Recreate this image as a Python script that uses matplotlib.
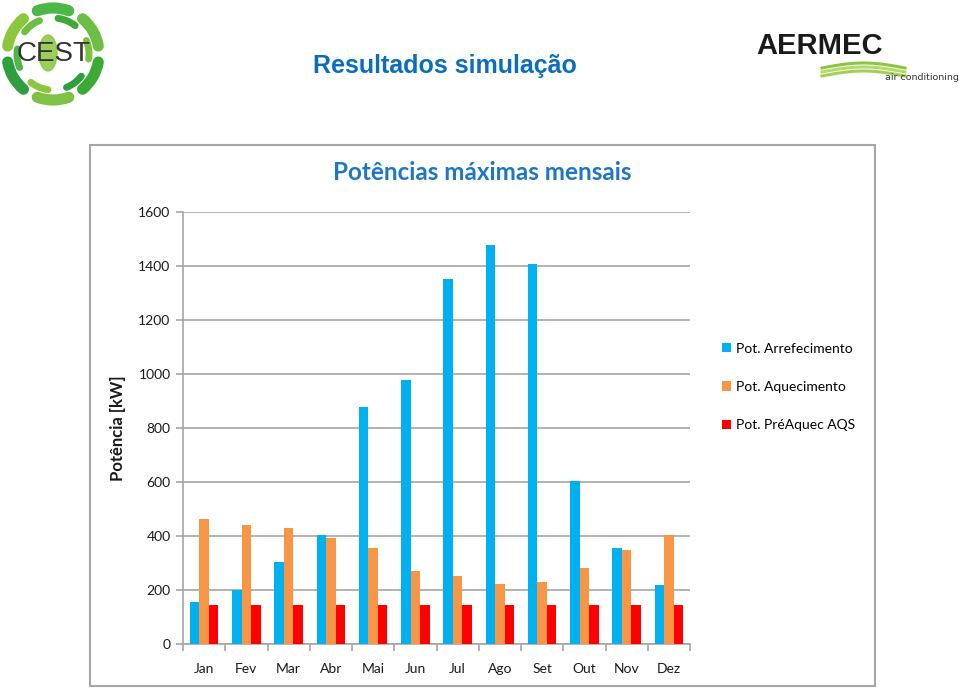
import matplotlib
matplotlib.use("Agg")
import matplotlib.pyplot as plt
import numpy as np
from matplotlib.patches import Rectangle, Arc, Patch, Ellipse

months = ["Jan", "Fev", "Mar", "Abr", "Mai", "Jun", "Jul", "Ago", "Set", "Out", "Nov", "Dez"]
arrefecimento = [156, 200, 302, 402, 876, 979, 1352, 1478, 1408, 602, 355, 218]
aquecimento = [462, 441, 429, 392, 355, 269, 251, 223, 228, 281, 347, 402]
preaquec = [145, 145, 145, 145, 145, 145, 145, 145, 145, 145, 145, 145]
series_names = ["Pot. Arrefecimento", "Pot. Aquecimento", "Pot. PréAquec AQS"]
colors = ["#00B0F0", "#F79646", "#FF0000"]
yticks = [0, 200, 400, 600, 800, 1000, 1200, 1400, 1600]

W, H = 959, 690
fig = plt.figure(figsize=(W / 100, H / 100), dpi=100)
fig.patch.set_facecolor("white")

# background / decoration axes in pixel coordinates
bg = fig.add_axes([0, 0, 1, 1], zorder=0)
bg.set_xlim(0, W)
bg.set_ylim(H, 0)
bg.axis("off")

# chart frame
bg.add_patch(Rectangle((90, 145), 785, 541, fill=False, edgecolor="#A6A6A6", lw=1.5))

# slide title
bg.text(445, 66, "Resultados simulação", ha="center", va="center", fontsize=18,
        fontweight="bold", color="#0A6EBD", family="Liberation Sans")

# CEST logo
cx, cy, r = 53, 54, 46
greens = ["#3DAA35", "#7DC242", "#2E9E3E", "#8CC63F", "#4CB848", "#6DBE45"]
for i in range(6):
    start = i * 60 + 10
    bg.add_patch(Arc((cx, cy), 2 * r, 2 * r, theta1=start, theta2=start + 40,
                     color=greens[i], lw=8, capstyle="round"))
    bg.add_patch(Arc((cx, cy), 2 * r - 20, 2 * r - 20, theta1=start + 28, theta2=start + 58,
                     color=greens[(i + 2) % 6], lw=5, capstyle="round"))
bg.add_patch(Ellipse((48, 53), 18, 36, color="#8CC63F", alpha=0.85))
bg.text(54, 54, "CEST", ha="center", va="center", fontsize=20, color="#333333",
        family="Liberation Sans")

# AERMEC logo
bg.text(820, 46, "AERMEC", ha="center", va="center", fontsize=21, fontweight="bold",
        color="#1A1A1A", family="Liberation Sans")
xs = np.linspace(822, 905, 60)
for k, (off, c) in enumerate([(0, "#8CC63F"), (4, "#B5D96B"), (8, "#A3CF55")]):
    ys = 68 + off - 5 * np.sin((xs - 822) / 83 * np.pi)
    bg.plot(xs, ys, color=c, lw=2.2)
bg.text(922, 77, "air conditioning", ha="center", va="center", fontsize=6.8,
        color="#333333", family="DejaVu Sans")

# chart title
fig.text(482 / W, 1 - 172 / H, "Potências máximas mensais", ha="center", va="center",
         fontsize=17.5, fontweight="bold", color="#1F77C2", family="Lato")

# y label
fig.text(118 / W, 1 - 428 / H, "Potência [kW]", ha="center", va="center", rotation=90,
         fontsize=12, fontweight="bold", color="#1A1A1A", family="Lato")

# main plot
left, right, bottom, top = 183, 690, 644, 212
ax = fig.add_axes([left / W, 1 - bottom / H, (right - left) / W, (bottom - top) / H], zorder=1)
ax.patch.set_alpha(0)
x = np.arange(len(months))
bw = 0.225
for i, (vals, col) in enumerate(zip([arrefecimento, aquecimento, preaquec], colors)):
    ax.bar(x + (i - 1) * bw, vals, width=bw, color=col, label=series_names[i], zorder=3)

ax.set_xlim(-0.5, len(months) - 0.5)
ax.set_ylim(0, 1600)
ax.set_yticks(yticks)
ax.set_yticklabels([str(v) for v in yticks], family="Lato", fontsize=10, color="#1A1A1A")
ax.yaxis.grid(True, color="#A6A6A6", lw=1.2, zorder=0)
ax.set_xticks(x)
ax.set_xticklabels(months, family="Lato", fontsize=10, color="#1A1A1A")
ax.set_xticks(np.arange(-0.5, len(months)), minor=True)
ax.tick_params(axis="x", which="major", length=0, pad=14)
ax.tick_params(axis="x", which="minor", length=5, color="#A6A6A6", width=1.2)
ax.tick_params(axis="y", length=5, color="#A6A6A6", width=1.2, pad=4)
for s in ["top", "right"]:
    ax.spines[s].set_visible(False)
for s in ["left", "bottom"]:
    ax.spines[s].set_color("#A6A6A6")
    ax.spines[s].set_linewidth(1.2)

handles = [Patch(facecolor=c, edgecolor="none") for c in colors]
fig.legend(handles, series_names, loc="upper left", bbox_to_anchor=(716 / W, 1 - 337 / H),
           frameon=False, prop={"family": "Lato", "size": 10}, handlelength=0.65,
           handleheight=0.65, handletextpad=0.4, labelspacing=1.9, borderaxespad=0)

fig.savefig("out.png", dpi=100)
